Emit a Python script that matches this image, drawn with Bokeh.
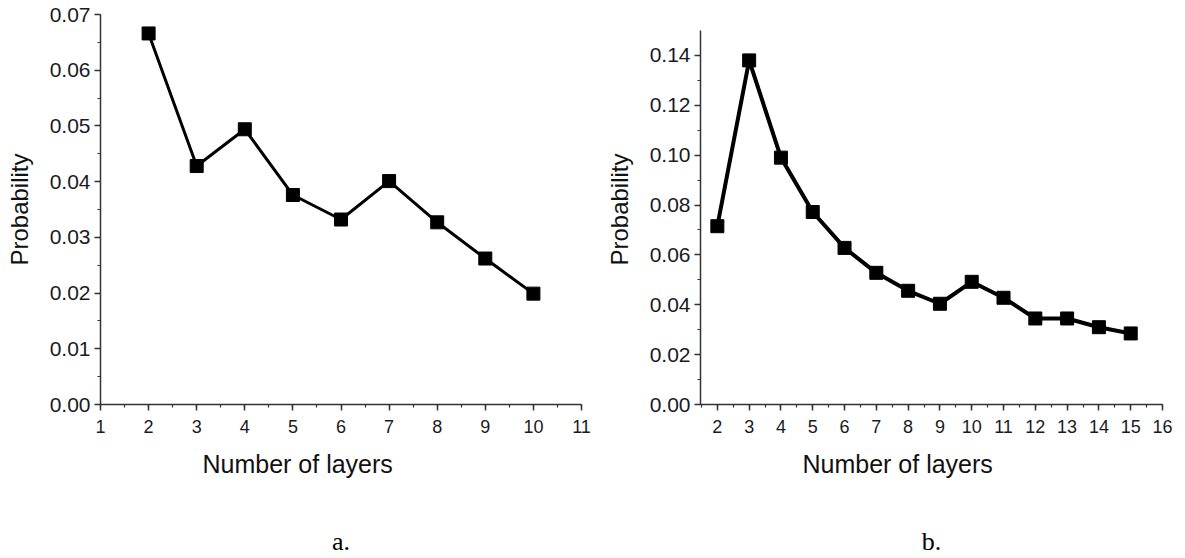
from bokeh.plotting import figure
from bokeh.layouts import row
from bokeh.models import (SingleIntervalTicker, FixedTicker, Range1d, LinearAxis,
                          NumeralTickFormatter, Title)
from bokeh.embed import file_html
from bokeh.resources import INLINE

# ---- data ----
layers_a = [2, 3, 4, 5, 6, 7, 8, 9, 10]
prob_a = [0.0666, 0.0428, 0.0494, 0.0376, 0.0332, 0.0401, 0.0327, 0.0262, 0.0199]

layers_b = [2, 3, 4, 5, 6, 7, 8, 9, 10, 11, 12, 13, 14, 15]
prob_b = [0.0715, 0.1380, 0.0990, 0.0772, 0.0628, 0.0528, 0.0456, 0.0404,
          0.0492, 0.0428, 0.0345, 0.0345, 0.0310, 0.0285]

xlabel = "Number of layers"
ylabel = "Probability"
panel_names = ["a.", "b."]

FONT = "Liberation Sans"
SERIF = "Liberation Serif"
H = 558
TOP = 14          # frame top (px)
FH = 391          # frame height (px)


def label_axis(text, font, size, standoff):
    """An axis without line/ticks that only carries a label."""
    return LinearAxis(ticker=FixedTicker(ticks=[]),
                      axis_line_color=None, major_tick_line_color=None,
                      minor_tick_line_color=None, major_tick_out=0, major_tick_in=0,
                      minor_tick_out=0, minor_tick_in=0, major_label_standoff=0,
                      axis_label=text, axis_label_text_font=font,
                      axis_label_text_font_size=size,
                      axis_label_text_font_style="normal",
                      axis_label_text_color="#000000",
                      axis_label_standoff=standoff)


def make_panel(xs, ys, xr, yr, yaxis_top, ytick, left, fw, total_w, lw, name):
    p = figure(width=total_w, height=H, output_backend="svg",
               toolbar_location=None,
               x_range=Range1d(*xr), y_range=Range1d(*yr),
               min_border_left=left, min_border_right=total_w - left - fw,
               min_border_top=TOP, min_border_bottom=H - TOP - FH)
    p.outline_line_color = None
    p.grid.visible = False
    p.background_fill_color = "white"
    p.border_fill_color = "white"

    xa = p.xaxis[0]
    ya = p.yaxis[0]
    xa.ticker = SingleIntervalTicker(interval=1, num_minor_ticks=2)
    ya.ticker = SingleIntervalTicker(interval=ytick, num_minor_ticks=2)
    ya.formatter = NumeralTickFormatter(format="0.00")
    ya.bounds = (0, yaxis_top)
    for ax in (xa, ya):
        ax.axis_line_color = "#333333"
        ax.axis_line_width = 1.5
        ax.major_tick_line_color = "#333333"
        ax.minor_tick_line_color = "#333333"
        ax.major_tick_line_width = 1.5
        ax.minor_tick_line_width = 1.2
        ax.major_tick_out = 6
        ax.major_tick_in = 0
        ax.minor_tick_out = 3
        ax.minor_tick_in = 0
        ax.major_label_text_font = FONT
        ax.major_label_text_color = "#1a1a24"
    xa.major_label_text_font_size = "18px"
    ya.major_label_text_font_size = "21px"
    xa.major_label_standoff = 9
    ya.major_label_standoff = 4
    ya.axis_label = ylabel
    ya.axis_label_text_font = FONT
    ya.axis_label_text_font_size = "24px"
    ya.axis_label_text_font_style = "normal"
    ya.axis_label_text_color = "#111111"
    ya.axis_label_standoff = 14

    p.line(xs, ys, line_color="black", line_width=lw)
    p.scatter(xs, ys, marker="square", size=13, fill_color="black",
              line_color="black")

    t1 = Title(text=xlabel, align="left", offset=102, text_font=FONT,
               text_font_size="25px", text_font_style="normal",
               text_color="#111111", standoff=24)
    p.add_layout(t1, "below")
    p.add_layout(label_axis(name, SERIF, "26px", 37), "below")
    return p


# left panel: 0.07 at frame top
pa = make_panel(layers_a, prob_a, (1, 11), (0, 0.07), 0.07, 0.01,
                100, 481, 592, 3, panel_names[0])
# right panel: 0.15 sits 16 px below the frame top (2500 px per unit)
pb = make_panel(layers_b, prob_b, (1.47, 16), (0, 0.1564), 0.15, 0.02,
                108, 462, 593, 4, panel_names[1])

layout = row(pa, pb, spacing=0)
open("out.html", "w").write(file_html(layout, INLINE))
